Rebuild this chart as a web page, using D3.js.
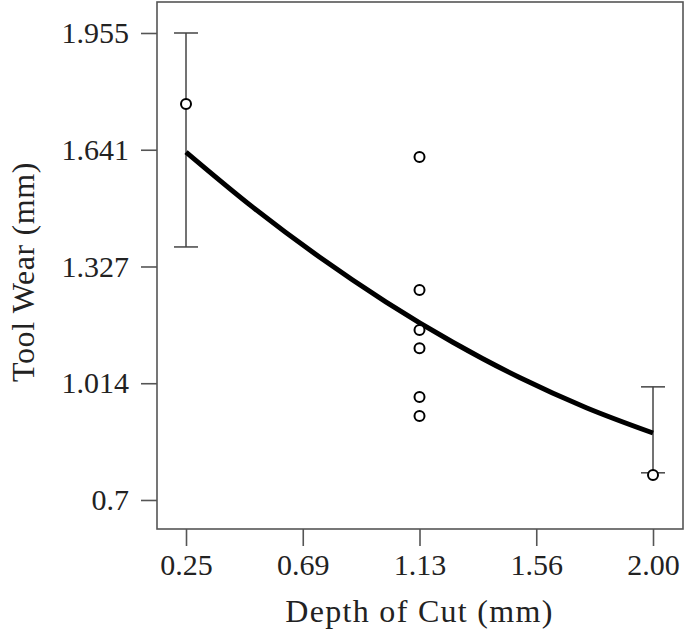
<!DOCTYPE html>
<html>
<head>
<meta charset="utf-8">
<script src="https://cdn.jsdelivr.net/npm/d3@7"></script>
<style>
  body { margin: 0; background: #fff; }
  text { font-family: "Liberation Serif", "DejaVu Serif", serif; fill: #222; }
</style>
</head>
<body>
<div id="chart"></div>
<script>
// values
const xTicks = [0.25, 0.6875, 1.125, 1.5625, 2.0];
const xTickLabels = ['0.25', '0.69', '1.13', '1.56', '2.00'];
const yTicks = [0.7, 1.01375, 1.3275, 1.64125, 1.955];
const yTickLabels = ['0.7', '1.014', '1.327', '1.641', '1.955'];

const pointX = [0.25, 1.125, 1.125, 1.125, 1.125, 1.125, 1.125, 2.0];
const pointY = [1.764, 1.622, 1.264, 1.157, 1.108, 0.977, 0.926, 0.767];

const errX = [0.25, 2.0];
const errLow = [1.380, 0.773];
const errHigh = [1.955, 1.004];

const curveX = [0.25, 0.5, 0.75, 1.0, 1.25, 1.5, 1.75, 2.0];
const curveY = [1.635, 1.487, 1.353, 1.232, 1.124, 1.029, 0.948, 0.880];

const width = 685;
const height = 638;
const margin = { top: 2, right: 2, bottom: 109, left: 157 };
const innerWidth = width - margin.left - margin.right;
const innerHeight = height - margin.top - margin.bottom;

const svg = d3.select('#chart')
  .append('svg')
  .attr('width', width)
  .attr('height', height);

const g = svg.append('g')
  .attr('transform', `translate(${margin.left},${margin.top})`);

const x = d3.scaleLinear()
  .domain([0.1413, 2.1124])
  .range([0, innerWidth]);

const y = d3.scaleLinear()
  .domain([0.622, 2.0383])
  .range([innerHeight, 0]);

const axisColor = '#555';

// frame
g.append('rect')
  .attr('x', 0)
  .attr('y', 0)
  .attr('width', innerWidth)
  .attr('height', innerHeight)
  .attr('fill', 'none')
  .attr('stroke', axisColor)
  .attr('stroke-width', 1.6);

const xAxis = g.append('g')
  .attr('transform', `translate(0,${innerHeight})`)
  .call(d3.axisBottom(x)
    .tickValues(xTicks)
    .tickFormat((d, i) => xTickLabels[i])
    .tickSize(17)
    .tickPadding(8));

const yAxis = g.append('g')
  .call(d3.axisLeft(y)
    .tickValues(yTicks)
    .tickFormat((d, i) => yTickLabels[i])
    .tickSize(16)
    .tickPadding(12));

[xAxis, yAxis].forEach(a => {
  a.select('.domain').remove();
  a.selectAll('.tick line').attr('stroke', axisColor).attr('stroke-width', 1.6);
  a.selectAll('.tick text')
    .attr('font-family', '"Liberation Serif", serif')
    .attr('font-size', 30)
    .attr('fill', '#222');
});

// error bars
const errData = errX.map((d, i) => ({ x: d, lo: errLow[i], hi: errHigh[i] }));
const capHalf = 12;
const eb = g.append('g')
  .attr('stroke', '#444')
  .attr('stroke-width', 1.5);

eb.selectAll('.err-v')
  .data(errData)
  .enter()
  .append('line')
  .attr('x1', d => x(d.x))
  .attr('x2', d => x(d.x))
  .attr('y1', d => y(d.lo))
  .attr('y2', d => y(d.hi));

eb.selectAll('.cap-hi')
  .data(errData)
  .enter()
  .append('line')
  .attr('x1', d => x(d.x) - capHalf)
  .attr('x2', d => x(d.x) + capHalf)
  .attr('y1', d => y(d.hi))
  .attr('y2', d => y(d.hi));

eb.selectAll('.cap-lo')
  .data(errData)
  .enter()
  .append('line')
  .attr('x1', d => x(d.x) - capHalf)
  .attr('x2', d => x(d.x) + capHalf)
  .attr('y1', d => y(d.lo))
  .attr('y2', d => y(d.lo));

// fitted curve
const curveData = curveX.map((d, i) => ({ x: d, y: curveY[i] }));
g.append('path')
  .datum(curveData)
  .attr('fill', 'none')
  .attr('stroke', '#000')
  .attr('stroke-width', 5)
  .attr('d', d3.line()
    .x(d => x(d.x))
    .y(d => y(d.y))
    .curve(d3.curveMonotoneX));

// observations
const pts = pointX.map((d, i) => ({ x: d, y: pointY[i] }));
g.selectAll('.pt')
  .data(pts)
  .enter()
  .append('circle')
  .attr('class', 'pt')
  .attr('cx', d => x(d.x))
  .attr('cy', d => y(d.y))
  .attr('r', 5)
  .attr('fill', '#fff')
  .attr('stroke', '#000')
  .attr('stroke-width', 2);

// axis titles
svg.append('text')
  .attr('x', margin.left + x(1.125))
  .attr('y', 622)
  .attr('text-anchor', 'middle')
  .attr('font-size', 32)
  .style('letter-spacing', '1.3px')
  .text('Depth of Cut (mm)');

svg.append('text')
  .attr('transform', `translate(34,272) rotate(-90)`)
  .attr('text-anchor', 'middle')
  .attr('font-size', 32)
  .style('letter-spacing', '0.6px')
  .text('Tool Wear (mm)');
</script>
</body>
</html>
